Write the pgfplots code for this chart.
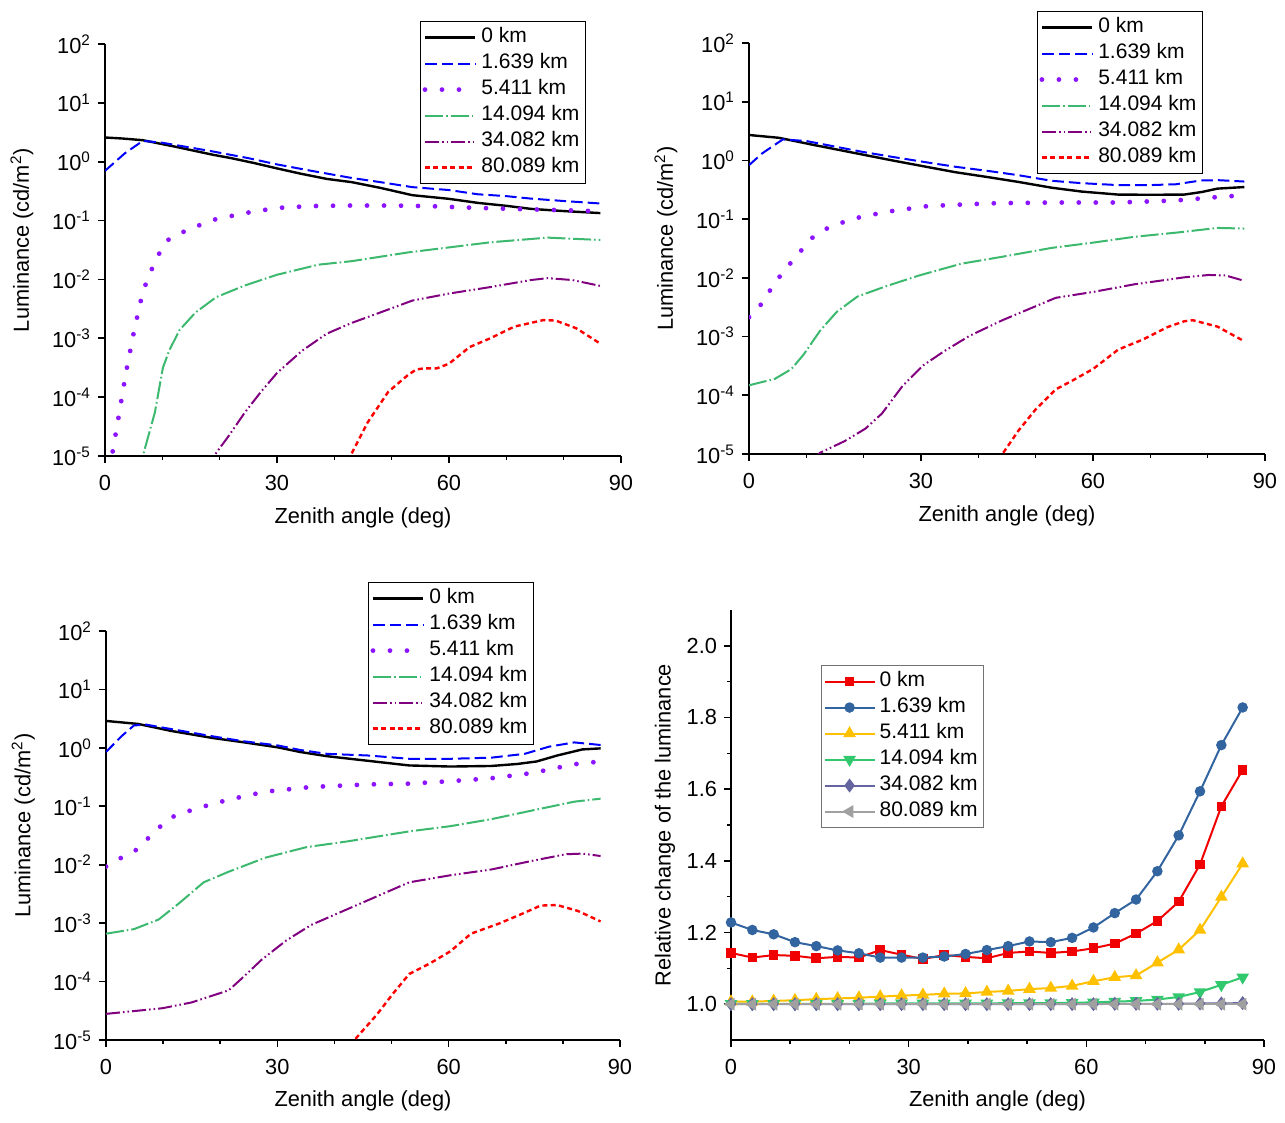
\documentclass[border=0pt]{standalone}
\usepackage{fontspec}
\setmainfont{Liberation Sans}
\usepackage{pgfplots}
\pgfplotsset{compat=1.18}

\definecolor{cblue}{RGB}{0,0,255}
\definecolor{cviolet}{RGB}{140,20,255}
\definecolor{cgreen}{RGB}{60,185,110}
\definecolor{cpurple}{RGB}{128,0,128}
\definecolor{cred}{RGB}{255,0,0}
\definecolor{bred}{RGB}{240,0,0}
\definecolor{bblue}{RGB}{50,100,160}
\definecolor{byellow}{RGB}{255,192,0}
\definecolor{bgreen}{RGB}{50,200,110}
\definecolor{bpurple}{RGB}{100,100,160}
\definecolor{bgray}{RGB}{160,160,160}

\newcommand{\fnt}{\fontsize{10.5}{12.6}\selectfont}
\newcommand{\fntl}{\fontsize{10.9}{13}\selectfont}

\pgfplotsset{
  myBase/.style={
    scale only axis,
    /pgf/number format/assume math mode=true,
    xmin=0, xmax=90,
    xtick={0,30,60,90}, minor x tick num=2,
    axis x line*=bottom, axis y line*=left,
    axis line style={line width=1pt,-},
    tick align=outside,
    major tick length=3.5pt, minor tick length=2pt,
    every tick/.style={black, line width=0.8pt},
    tick label style={font=\fntl},
    xticklabel style={yshift=-2.5pt},
    label style={font=\fntl},
    xlabel={Zenith angle (deg)},
    legend cell align=left,
    legend image code/.code={\draw[mark repeat=2,mark phase=2,##1] plot coordinates {(0pt,0pt) (12.5pt,0pt) (25pt,0pt)};},
  },
  myLum/.style={
    myBase,
    ymin=1e-5, ymax=100,
    ytick={1e-5,1e-4,1e-3,1e-2,1e-1,1,10,100},
    yticklabel={10\textsuperscript{\pgfmathprintnumber[fixed,precision=0]{\tick}}},
    ylabel={Luminance (cd/m\textsuperscript{2})},
    every axis y label/.append style={at={(axis description cs:-0.161,0.524)}, anchor=center},
    every axis x label/.append style={at={(axis description cs:0.5,-0.150)}, anchor=center},
  },
  myLeg/.style 2 args={
    legend style={at={(#1,#2)}, anchor=north west, draw=black, line width=0.6pt,
      inner xsep=1pt, inner ysep=1.5pt, row sep=0pt, font=\fnt,
      nodes={inner ysep=1.5pt, inner xsep=2pt, text height=7.5pt, text depth=2.5pt}},
  },
  sA/.style={black, line width=1.2pt},
  sB/.style={cblue, line width=1pt, dash pattern=on 5.8pt off 2.5pt},
  sC/.style={cviolet, line width=2.4pt, line cap=round, dash pattern=on 0pt off 8.5pt},
  sD/.style={cgreen, line width=1pt, dash pattern=on 9pt off 1.5pt on 0.8pt off 1.5pt},
  sE/.style={cpurple, line width=1pt, dash pattern=on 7pt off 1.5pt on 0.8pt off 1.5pt on 0.8pt off 1.5pt},
  sF/.style={cred, line width=1.2pt, dash pattern=on 2.5pt off 1.7pt},
}

\begin{document}
\begin{tikzpicture}[font=\fnt]
\path[use as bounding box] (0,0) rectangle (642.5pt,561.5pt);

% ---------- top left ----------
\begin{axis}[ymode=log, log basis y=10, myLum, at={(52.5pt,333.5pt)}, anchor=south west, width=258pt, height=206pt,
  myLeg={0.6105}{1.0558}]
\addplot[sA] coordinates {(0,2.58)(3,2.48)(6.6,2.32)(12,1.82)(18.7,1.32)(22,1.15)(26,0.95)(30,0.77)(34,0.63)(38.7,0.51)(43,0.45)(48,0.36)(53.6,0.27)(60,0.234)(65,0.20)(70,0.178)(74.3,0.158)(80,0.145)(86.4,0.134)};
\addlegendentry{0 km}
\addplot[sB] coordinates {(0,0.7)(3.5,1.4)(6.6,2.26)(10,2.1)(14,1.8)(18.7,1.5)(25,1.15)(30,0.9)(36,0.7)(43,0.53)(48,0.45)(53.6,0.37)(60,0.33)(65,0.28)(70,0.26)(74.3,0.236)(80,0.215)(86.4,0.195)};
\addlegendentry{1.639 km}
\addplot[sC] coordinates {(0.6,3.2e-6)(1.2,1e-5)(2.3,4.2e-5)(3.7,2.75e-4)(5.1,1.38e-3)(6.6,6.2e-3)(8,0.0138)(9.4,0.0269)(10.8,0.0457)(13,0.0603)(15.8,0.0785)(18.7,0.102)(24.4,0.134)(30,0.164)(35.8,0.176)(42,0.18)(50,0.18)(56.5,0.176)(65,0.164)(74.3,0.155)(86.4,0.144)};
\addlegendentry{5.411 km}
\addplot[sD] coordinates {(6,5e-6)(6.6,1e-5)(8.7,5.5e-5)(10.1,3.16e-4)(11.2,6.2e-4)(13,1.38e-3)(15.8,2.75e-3)(19.4,5.0e-3)(24.4,7.9e-3)(30,0.012)(37.2,0.0178)(43,0.0204)(52.9,0.0288)(60,0.035)(67.2,0.0427)(77.2,0.0513)(86.4,0.0468)};
\addlegendentry{14.094 km}
\addplot[sE] coordinates {(18,6e-6)(19,1e-5)(21.5,2.14e-5)(24.4,5.5e-5)(27.2,1.23e-4)(30,2.57e-4)(34.4,6.17e-4)(38.7,1.2e-3)(43,1.82e-3)(48.6,2.88e-3)(53.6,4.37e-3)(60,5.75e-3)(67.2,7.41e-3)(74.3,9.77e-3)(77.2,0.0105)(81.5,9.77e-3)(86.4,7.76e-3)};
\addlegendentry{34.082 km}
\addplot[sF] coordinates {(42,6e-6)(42.8,1e-5)(45.8,3.7e-5)(49.4,1.23e-4)(52.9,2.4e-4)(54.3,2.95e-4)(55.7,3.09e-4)(57.9,3.09e-4)(60,3.7e-4)(63.6,7.1e-4)(67.2,1.0e-3)(71.4,1.58e-3)(76.5,2.04e-3)(78.6,2.0e-3)(82.2,1.48e-3)(86.4,8.1e-4)};
\addlegendentry{80.089 km}
\end{axis}

% ---------- top right ----------
\begin{axis}[ymode=log, log basis y=10, myLum, at={(374.5pt,334.5pt)}, anchor=south west, width=258pt, height=205.5pt,
  myLeg={0.558}{1.078}]
\addplot[sA] coordinates {(0,2.71)(5.2,2.43)(11,1.86)(19.6,1.27)(25,1.0)(31.2,0.77)(36,0.63)(42,0.514)(47,0.43)(52.8,0.343)(58,0.295)(64.4,0.262)(70,0.26)(75.9,0.262)(79,0.29)(81.7,0.331)(86.4,0.352)};
\addlegendentry{0 km}
\addplot[sB] coordinates {(0,0.83)(2.3,1.32)(5.9,2.28)(10,2.14)(19.6,1.41)(25,1.15)(31.2,0.92)(36,0.78)(42,0.656)(47,0.56)(52.8,0.45)(58,0.41)(64.4,0.38)(70,0.38)(74.5,0.393)(78.8,0.455)(82,0.46)(86.4,0.437)};
\addlegendentry{1.639 km}
\addplot[sC] coordinates {(0,2.14e-3)(2.3,3.7e-3)(4.5,8.3e-3)(7.4,0.0186)(9.5,0.0324)(11,0.0479)(13.9,0.0724)(18.2,0.102)(23.9,0.133)(31.2,0.167)(42,0.186)(52.8,0.192)(64.4,0.192)(74.5,0.208)(81.7,0.238)(86.4,0.255)};
\addlegendentry{5.411 km}
\addplot[sD] coordinates {(0,1.48e-4)(4.5,1.9e-4)(7.4,2.8e-4)(9.5,4.9e-4)(12.4,1.26e-3)(15.3,2.63e-3)(18.9,4.8e-3)(23.9,7.2e-3)(29.7,0.011)(37,0.0174)(44.2,0.0229)(52.8,0.0324)(60,0.0398)(67.2,0.050)(74.5,0.0589)(81.7,0.0708)(86.4,0.0692)};
\addlegendentry{14.094 km}
\addplot[sE] coordinates {(11,7.9e-6)(12.4,1.05e-5)(16.7,1.66e-5)(20.3,2.7e-5)(23.2,4.9e-5)(26.8,1.45e-4)(30.4,3.24e-4)(34,5.6e-4)(38.4,1.02e-3)(44.2,1.9e-3)(53.5,4.57e-3)(60,5.75e-3)(67.2,7.76e-3)(75.9,0.0102)(80.2,0.0112)(83.1,0.011)(86.4,8.9e-3)};
\addlegendentry{34.082 km}
\addplot[sF] coordinates {(43.5,4e-6)(44.2,1e-5)(47,2.5e-5)(49.9,5.6e-5)(53.5,1.26e-4)(56.4,1.78e-4)(60,2.8e-4)(64.4,6.0e-4)(68.7,8.9e-4)(73,1.45e-3)(75.9,1.82e-3)(77.4,1.9e-3)(81.7,1.48e-3)(86.4,8.3e-4)};
\addlegendentry{80.089 km}
\end{axis}

% ---------- bottom left ----------
\begin{axis}[ymode=log, log basis y=10, myLum, at={(53pt,41.5pt)}, anchor=south west, width=257pt, height=204.5pt,
  myLeg={0.5097}{1.1198}]
\addplot[sA] coordinates {(0,2.89)(5.6,2.57)(11.4,1.95)(18.6,1.48)(24,1.25)(30.1,1.02)(34,0.85)(38.7,0.72)(45.9,0.60)(53.1,0.50)(60.3,0.479)(67.5,0.49)(72,0.53)(75.4,0.585)(79,0.74)(83.4,0.94)(86.6,0.98)};
\addlegendentry{0 km}
\addplot[sB] coordinates {(0,0.85)(2.7,1.58)(4.9,2.42)(7,2.5)(11.4,2.1)(18.6,1.58)(24,1.3)(30.1,1.1)(34,0.92)(38.7,0.79)(45.9,0.74)(53.1,0.65)(60.3,0.65)(67.5,0.68)(73.3,0.79)(77.6,1.05)(82,1.24)(86.6,1.12)};
\addlegendentry{1.639 km}
\addplot[sC] coordinates {(0,9.3e-3)(2.7,0.0132)(5.6,0.0186)(8.5,0.0372)(11.4,0.0646)(15.7,0.0912)(21.5,0.130)(27.9,0.178)(35.9,0.214)(45.9,0.237)(53.1,0.244)(60.3,0.269)(67.5,0.302)(74.7,0.372)(82,0.525)(86.6,0.585)};
\addlegendentry{5.411 km}
\addplot[sD] coordinates {(0,6.6e-4)(4.9,7.9e-4)(9.2,1.15e-3)(12.8,2.19e-3)(17.1,5.0e-3)(21.5,7.6e-3)(27.9,0.0132)(35.1,0.020)(42.3,0.0251)(53.1,0.0372)(60.3,0.0457)(67.5,0.0603)(74.7,0.0851)(82,0.120)(86.6,0.135)};
\addlegendentry{14.094 km}
\addplot[sE] coordinates {(0,2.8e-5)(9.9,3.5e-5)(15,4.4e-5)(21.5,7.1e-5)(24.3,1.26e-4)(27.2,2.34e-4)(31.5,5.0e-4)(35.9,9.3e-4)(42.3,1.74e-3)(53.1,5.0e-3)(60.3,6.6e-3)(67.5,8.3e-3)(74.7,0.0117)(80.5,0.0151)(83.4,0.0155)(86.6,0.0141)};
\addlegendentry{34.082 km}
\addplot[sF] coordinates {(42.8,4e-6)(43.5,1e-5)(47.4,2.7e-5)(50.3,6.3e-5)(53.1,1.35e-4)(56.7,2.04e-4)(60.3,3.3e-4)(63.9,6.6e-4)(69,1.0e-3)(73.3,1.51e-3)(76.1,2.0e-3)(79,2.04e-3)(82.6,1.62e-3)(86.6,1.07e-3)};
\addlegendentry{80.089 km}
\end{axis}

% ---------- bottom right ----------
\begin{axis}[myBase, at={(365.5pt,41.5pt)}, anchor=south west, width=266.5pt, height=215pt,
  ymin=0.9, ymax=2.1, ytick={1,1.2,1.4,1.6,1.8,2}, minor y tick num=1,
  yticklabel style={/pgf/number format/.cd, fixed, fixed zerofill, precision=1},
  ylabel={Relative change of the luminance},
  every axis y label/.append style={at={(axis description cs:-0.124,0.5)}, anchor=center},
  every axis x label/.append style={at={(axis description cs:0.5,-0.142)}, anchor=center},
  myLeg={0.169}{0.872},
  legend style={draw=black!55, line width=0.5pt},
  every axis plot/.append style={line width=1pt, mark options={solid}},
  ]
\addplot[bred, mark=square*, mark size=1.9pt] coordinates {(0,1.143)(3.6,1.130)(7.2,1.137)(10.8,1.135)(14.4,1.128)(18,1.132)(21.6,1.130)(25.2,1.151)(28.8,1.138)(32.4,1.126)(36,1.137)(39.6,1.132)(43.2,1.128)(46.8,1.143)(50.4,1.147)(54,1.143)(57.6,1.147)(61.2,1.156)(64.8,1.169)(68.4,1.197)(72,1.232)(75.6,1.286)(79.2,1.390)(82.8,1.552)(86.4,1.654)};
\addlegendentry{0 km}
\addplot[bblue, mark=*, mark size=2.1pt] coordinates {(0,1.228)(3.6,1.207)(7.2,1.195)(10.8,1.173)(14.4,1.162)(18,1.150)(21.6,1.142)(25.2,1.130)(28.8,1.130)(32.4,1.130)(36,1.133)(39.6,1.140)(43.2,1.151)(46.8,1.162)(50.4,1.175)(54,1.173)(57.6,1.185)(61.2,1.214)(64.8,1.254)(68.4,1.292)(72,1.371)(75.6,1.471)(79.2,1.594)(82.8,1.723)(86.4,1.828)};
\addlegendentry{1.639 km}
\addplot[byellow, mark=triangle*, mark size=2.7pt] coordinates {(0,1.007)(3.6,1.007)(7.2,1.009)(10.8,1.011)(14.4,1.014)(18,1.016)(21.6,1.018)(25.2,1.021)(28.8,1.024)(32.4,1.026)(36,1.029)(39.6,1.030)(43.2,1.034)(46.8,1.037)(50.4,1.042)(54,1.045)(57.6,1.051)(61.2,1.064)(64.8,1.075)(68.4,1.080)(72,1.116)(75.6,1.152)(79.2,1.207)(82.8,1.299)(86.4,1.392)};
\addlegendentry{5.411 km}
\addplot[bgreen, mark=triangle*, mark size=2.7pt, mark options={rotate=180}] coordinates {(0,1.001)(3.6,1.001)(7.2,1.001)(10.8,1.001)(14.4,1.001)(18,1.001)(21.6,1.001)(25.2,1.002)(28.8,1.002)(32.4,1.002)(36,1.002)(39.6,1.002)(43.2,1.002)(46.8,1.003)(50.4,1.003)(54,1.003)(57.6,1.004)(61.2,1.005)(64.8,1.007)(68.4,1.009)(72,1.013)(75.6,1.020)(79.2,1.034)(82.8,1.054)(86.4,1.075)};
\addlegendentry{14.094 km}
\addplot[bpurple, mark=diamond*, mark size=2.7pt] coordinates {(0,1.000)(3.6,1.000)(7.2,1.000)(10.8,1.000)(14.4,1.000)(18,1.000)(21.6,1.000)(25.2,1.000)(28.8,1.000)(32.4,1.000)(36,1.000)(39.6,1.000)(43.2,1.000)(46.8,1.000)(50.4,1.000)(54,1.000)(57.6,1.000)(61.2,1.000)(64.8,1.001)(68.4,1.001)(72,1.001)(75.6,1.001)(79.2,1.002)(82.8,1.002)(86.4,1.003)};
\addlegendentry{34.082 km}
\addplot[bgray, mark=triangle*, mark size=2.7pt, mark options={rotate=90}] coordinates {(0,1.000)(3.6,1.000)(7.2,1.000)(10.8,1.000)(14.4,1.000)(18,1.000)(21.6,1.000)(25.2,1.000)(28.8,1.000)(32.4,1.000)(36,1.000)(39.6,1.000)(43.2,1.000)(46.8,1.000)(50.4,1.000)(54,1.000)(57.6,1.000)(61.2,1.000)(64.8,1.000)(68.4,1.000)(72,1.000)(75.6,1.000)(79.2,1.000)(82.8,1.000)(86.4,1.000)};
\addlegendentry{80.089 km}
\end{axis}
\end{tikzpicture}
\end{document}
